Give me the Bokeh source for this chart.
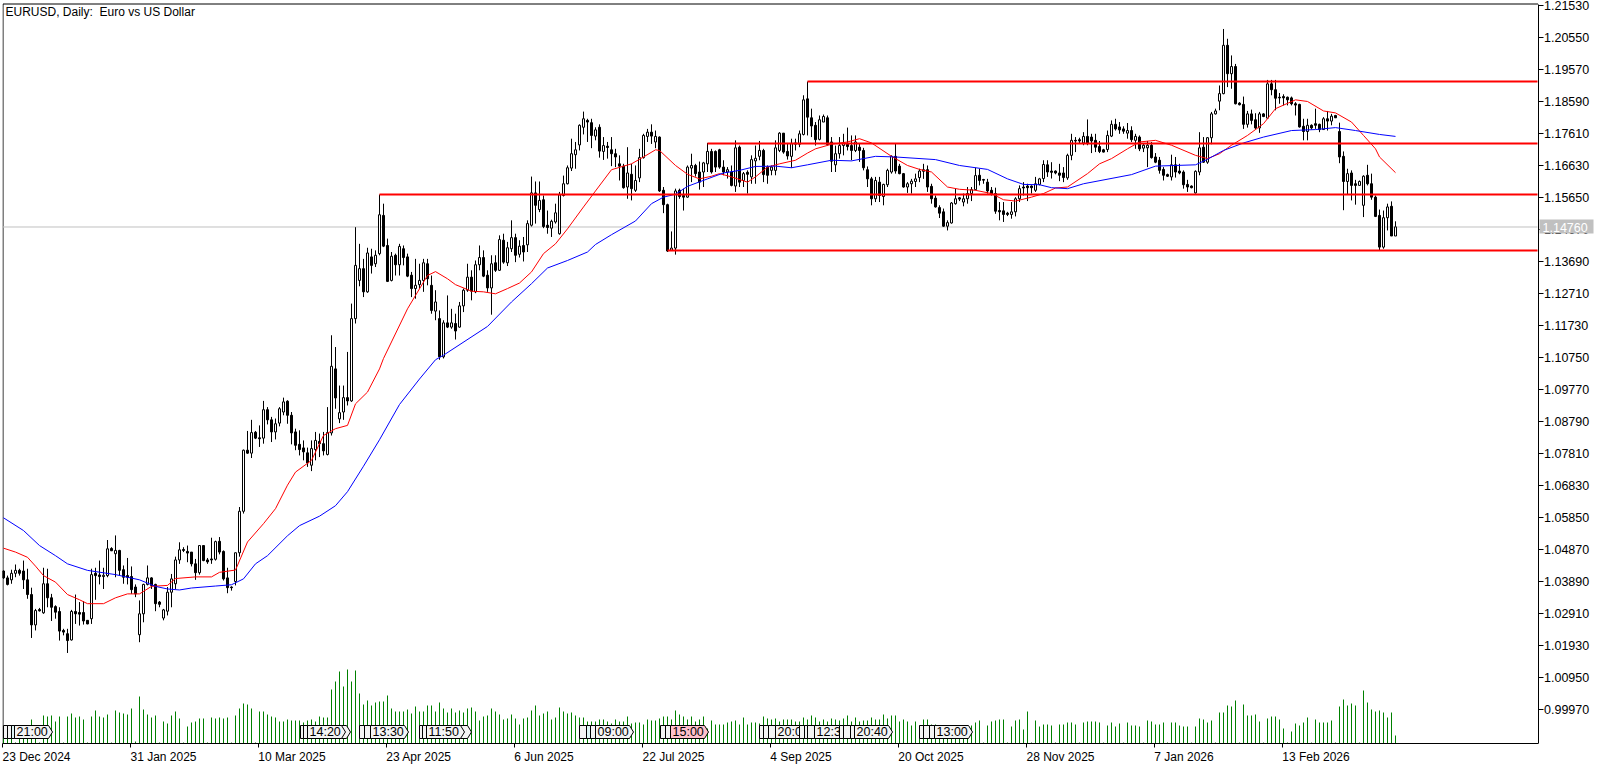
from bokeh.plotting import figure
from bokeh.embed import file_html
from bokeh.resources import INLINE
from bokeh.models import Range1d, FixedTicker, NumeralTickFormatter, LinearAxis
from bokeh.core.properties import value

# prices are in 1/10000 of a dollar
highs = [10424,10408,10426,10442,10429,10454,10429,10371,10306,10309,
10432,10429,10352,10317,10311,10245,10245,10303,10350,10327,
10330,10271,10429,10432,10454,10432,10517,10495,10531,10487,
10439,10462,10436,10381,10332,10383,10439,10403,10383,10330,
10306,10373,10413,10466,10510,10495,10500,10480,10459,10500,
10500,10462,10524,10515,10526,10485,10432,10375,10478,10618,
10794,10851,10885,10851,10868,10943,10924,10894,10889,10924,
10953,10945,10909,10858,10853,10822,10800,10822,10848,10843,
10848,10924,11144,11108,10990,10990,11093,11241,11475,11424,
11378,11412,11409,11404,11575,11547,11440,11399,11394,11424,
11419,11394,11338,11378,11363,11378,11378,11327,11282,11220,
11190,11266,11225,11210,11246,11287,11363,11343,11373,11419,
11404,11343,11389,11389,11450,11455,11430,11496,11455,11435,
11445,11496,11630,11615,11615,11572,11526,11498,11547,11583,
11633,11664,11746,11736,11790,11829,11807,11807,11781,11790,
11751,11736,11751,11715,11695,11669,11720,11669,11664,11715,
11761,11776,11790,11771,11753,11598,11547,11462,11593,11593,
11593,11664,11700,11669,11676,11675,11733,11715,11710,11715,
11680,11659,11664,11741,11725,11644,11649,11695,11725,11739,
11715,11664,11664,11741,11766,11763,11733,11746,11746,11771,
11879,11921,11838,11797,11817,11820,11817,11751,11725,11751,
11761,11780,11756,11756,11731,11718,11661,11629,11629,11629,
11608,11654,11695,11731,11669,11641,11613,11623,11639,11654,
11669,11664,11608,11572,11542,11532,11496,11552,11593,11567,
11578,11598,11598,11657,11654,11623,11623,11598,11596,11552,
11552,11522,11552,11567,11603,11613,11608,11603,11629,11626,
11680,11680,11674,11649,11669,11659,11700,11761,11751,11749,
11766,11805,11761,11761,11739,11715,11771,11802,11807,11797,
11784,11794,11784,11761,11756,11731,11739,11736,11702,11690,
11659,11639,11697,11690,11669,11649,11620,11603,11649,11766,
11751,11751,11828,11838,11909,12082,12052,12001,11975,11858,
11875,11831,11835,11824,11828,11824,11926,11926,11926,11886,
11882,11875,11875,11858,11853,11807,11807,11790,11838,11792,
11812,11831,11822,11819,11795,11707,11654,11649,11620,11618,
11634,11666,11639,11572,11529,11526,11547,11554,11493]

lows = [10398,10378,10383,10403,10408,10367,10337,10217,10240,10298,
10291,10311,10269,10276,10209,10225,10171,10209,10260,10255,
10258,10259,10260,10334,10381,10367,10403,10483,10403,10408,
10383,10381,10352,10342,10204,10265,10378,10367,10299,10311,
10271,10286,10311,10367,10444,10480,10449,10436,10395,10411,
10452,10444,10444,10454,10473,10393,10354,10362,10378,10466,
10598,10781,10768,10826,10802,10812,10871,10817,10825,10865,
10899,10873,10810,10792,10776,10761,10741,10728,10761,10771,
10776,10776,10837,10919,10875,10885,10929,10940,11180,11294,
11261,11274,11333,11353,11389,11414,11307,11309,11327,11327,
11358,11322,11261,11256,11287,11277,11297,11210,11190,11069,
11073,11166,11164,11131,11167,11215,11277,11251,11273,11343,
11322,11277,11207,11338,11341,11363,11356,11399,11368,11382,
11370,11399,11477,11486,11521,11472,11455,11445,11486,11452,
11569,11606,11647,11654,11710,11759,11736,11717,11741,11688,
11681,11685,11662,11659,11618,11593,11562,11557,11583,11613,
11685,11736,11730,11717,11583,11518,11399,11402,11391,11562,
11526,11565,11613,11630,11590,11598,11644,11639,11644,11654,
11634,11624,11600,11583,11598,11598,11578,11608,11608,11680,
11613,11608,11634,11634,11705,11700,11682,11657,11710,11720,
11756,11756,11751,11725,11741,11797,11725,11644,11644,11685,
11695,11710,11680,11705,11675,11649,11598,11542,11552,11552,
11542,11598,11639,11639,11637,11596,11580,11578,11598,11613,
11623,11583,11547,11535,11503,11476,11465,11486,11544,11555,
11539,11547,11555,11588,11603,11608,11578,11572,11516,11496,
11491,11509,11501,11508,11552,11572,11555,11578,11583,11603,
11613,11629,11624,11637,11616,11613,11620,11680,11705,11731,
11726,11726,11702,11705,11702,11704,11705,11751,11771,11761,
11761,11746,11736,11715,11708,11705,11659,11685,11671,11639,
11618,11629,11618,11627,11637,11593,11583,11594,11578,11634,
11672,11669,11729,11820,11833,11882,11904,11899,11851,11848,
11776,11780,11790,11776,11764,11812,11807,11879,11833,11853,
11848,11848,11848,11817,11780,11741,11741,11774,11776,11766,
11773,11771,11787,11810,11671,11527,11576,11557,11544,11603,
11506,11603,11559,11506,11404,11409,11465,11448,11448]

opens = [10422,10401,10395,10415,10424,10422,10395,10350,10257,10304,
10294,10383,10340,10313,10298,10240,10230,10211,10298,10295,
10295,10271,10276,10415,10410,10405,10408,10491,10475,10485,
10426,10408,10405,10373,10227,10291,10381,10401,10381,10327,
10278,10299,10357,10383,10456,10488,10482,10480,10444,10417,
10500,10456,10459,10458,10513,10482,10401,10373,10390,10478,
10605,10792,10783,10847,10830,10829,10916,10885,10848,10875,
10909,10942,10899,10848,10810,10799,10784,10746,10794,10819,
10812,10779,10845,11041,10888,10909,10953,10943,11195,11312,
11348,11277,11384,11363,11394,11511,11419,11312,11389,11360,
11409,11384,11328,11287,11299,11312,11363,11297,11218,11195,
11078,11182,11169,11180,11169,11234,11282,11322,11277,11360,
11382,11328,11289,11366,11343,11435,11366,11409,11443,11392,
11419,11421,11481,11580,11529,11559,11481,11472,11491,11455,
11572,11608,11656,11697,11727,11781,11802,11795,11754,11781,
11707,11723,11712,11700,11669,11662,11598,11637,11588,11626,
11688,11753,11766,11736,11751,11588,11544,11404,11411,11588,
11572,11567,11656,11664,11644,11644,11669,11707,11707,11712,
11659,11644,11644,11601,11720,11618,11643,11629,11678,11692,
11710,11659,11649,11649,11710,11763,11707,11692,11729,11729,
11759,11868,11810,11787,11744,11797,11810,11736,11666,11700,
11725,11729,11725,11710,11720,11710,11651,11623,11562,11613,
11569,11605,11644,11692,11662,11639,11598,11608,11615,11627,
11646,11651,11600,11564,11535,11522,11478,11488,11547,11565,
11552,11562,11578,11590,11634,11621,11613,11588,11578,11526,
11525,11518,11514,11522,11562,11598,11601,11601,11588,11606,
11624,11666,11647,11647,11641,11641,11626,11695,11741,11743,
11733,11753,11751,11741,11722,11712,11713,11754,11790,11782,
11776,11763,11771,11741,11751,11717,11718,11726,11690,11680,
11652,11636,11629,11666,11647,11644,11606,11601,11580,11644,
11720,11674,11749,11822,11861,11884,12032,11945,11967,11855,
11851,11790,11822,11804,11779,11822,11809,11914,11896,11873,
11875,11873,11871,11853,11851,11784,11768,11787,11792,11790,
11774,11807,11800,11817,11768,11692,11615,11641,11608,11603,
11542,11634,11608,11567,11511,11414,11504,11539,11448]

closes = [10401,10381,10415,10424,10415,10395,10350,10257,10301,10300,
10383,10340,10311,10296,10238,10235,10209,10298,10291,10290,
10269,10260,10411,10408,10405,10409,10490,10484,10485,10424,
10403,10403,10365,10352,10291,10381,10401,10378,10322,10320,
10303,10357,10398,10456,10487,10485,10477,10444,10417,10500,
10454,10450,10456,10512,10480,10398,10371,10371,10478,10605,
10792,10783,10846,10829,10827,10916,10885,10848,10873,10919,
10940,10899,10845,10807,10794,10787,10753,10797,10822,10812,
10790,10846,11049,10952,10907,10953,10943,11195,11358,11348,
11277,11396,11358,11389,11513,11417,11309,11386,11360,11416,
11382,11325,11287,11297,11312,11366,11317,11220,11246,11078,
11182,11169,11182,11157,11234,11282,11322,11279,11360,11382,
11325,11289,11363,11343,11437,11368,11412,11443,11389,11417,
11399,11486,11580,11542,11557,11477,11474,11493,11519,11574,
11608,11657,11700,11712,11787,11807,11797,11756,11773,11708,
11725,11719,11700,11690,11662,11596,11641,11593,11618,11688,
11756,11766,11754,11753,11586,11544,11402,11411,11586,11569,
11567,11659,11664,11639,11613,11672,11707,11644,11659,11659,
11644,11651,11603,11718,11613,11639,11637,11682,11686,11710,
11636,11634,11659,11718,11763,11705,11693,11731,11733,11761,
11865,11812,11785,11743,11804,11814,11728,11677,11700,11725,
11733,11722,11710,11736,11710,11657,11623,11562,11618,11572,
11606,11649,11692,11647,11639,11598,11608,11616,11623,11647,
11651,11598,11562,11537,11518,11478,11489,11549,11562,11561,
11562,11578,11590,11633,11618,11619,11586,11576,11524,11522,
11514,11514,11522,11562,11593,11595,11596,11596,11608,11623,
11667,11644,11643,11641,11634,11627,11695,11741,11739,11739,
11753,11731,11739,11720,11707,11705,11756,11790,11776,11773,
11769,11771,11743,11753,11715,11726,11726,11688,11674,11649,
11634,11631,11666,11644,11641,11605,11598,11596,11646,11718,
11674,11749,11822,11831,11884,12032,11945,11967,11853,11850,
11790,11822,11802,11779,11822,11814,11914,11896,11870,11871,
11871,11865,11853,11849,11782,11768,11787,11779,11787,11774,
11807,11800,11815,11810,11690,11615,11639,11603,11603,11615,
11631,11608,11567,11508,11414,11504,11537,11448,11476]

volumes = [15,15,15,1,15,15,15,24,16,1,
28,27,28,22,27,1,27,30,26,27,
24,1,27,33,27,26,29,1,33,31,
30,29,35,2,47,34,29,26,28,1,
22,20,28,32,25,1,17,21,22,25,
25,1,26,25,26,25,26,1,28,35,
40,39,35,1,32,32,29,27,26,22,
22,24,23,23,23,21,23,24,22,27,
26,26,54,62,72,57,74,62,73,50,
39,43,38,41,42,42,48,35,32,32,
32,34,30,37,32,32,38,38,32,41,
35,31,35,31,33,31,35,36,32,23,
27,28,35,32,29,24,25,29,25,19,
25,26,33,38,28,30,32,24,26,36,
32,30,31,28,26,26,22,22,22,24,
24,22,20,24,22,22,27,20,21,21,
19,24,23,23,25,27,27,24,33,29,
27,24,27,22,24,27,15,23,19,19,
19,21,22,23,19,26,19,21,21,20,
27,25,24,25,22,24,24,24,22,22,
26,24,28,26,22,24,22,25,24,23,
25,28,22,26,22,23,23,26,24,24,
29,25,28,28,22,24,22,18,22,18,
24,24,19,19,18,18,18,18,18,18,
18,18,18,21,23,1,18,22,23,24,
24,1,17,23,24,14,32,1,23,17,
19,19,18,1,19,19,21,21,19,1,
21,22,22,22,21,1,18,21,17,20,
1,21,18,18,17,1,23,22,19,19,
21,1,21,21,18,17,17,1,17,25,
24,21,23,1,31,31,38,37,43,1,
39,28,28,29,22,1,25,27,27,24,
15,1,12,20,18,21,26,1,24,21,
21,21,23,1,37,44,38,40,38,1,
53,41,34,32,33,31,26,31,8]

red_bars = [0,3,6,8,10,13,16,19,21,25,28,31,34,37,41,43,48,52,54,58,61,65,68,71,73,77,80,83,86,88,91,94,95,101,103,106,108,111,113,117,120,123,126,129,132,135,138,141,145,148,152,157,160,163,164,168,171,174,177,179,182,186,188,191,194,198,201,203,207,211,214,217,222,226,229,232,236,239,243,247,250,253,257,260,263,266,271,274,277,281,284,288,292,298,301,304,307,311,315,318,323,326,330,333,337,340,343,344,348]
red_ma = [10492,10480,10464,10437,10408,10388,10350,10334,10322,10322,10340,10352,10352,10375,10378,10399,10404,10404,10418,10425,10511,10567,10613,10685,10725,10761,10837,10858,10868,10934,10970,11041,11073,11225,11266,11327,11339,11317,11299,11279,11277,11271,11287,11304,11338,11394,11424,11470,11537,11586,11651,11669,11690,11712,11710,11664,11637,11623,11631,11639,11629,11613,11629,11659,11669,11680,11702,11715,11729,11736,11746,11733,11692,11664,11652,11644,11598,11591,11588,11578,11559,11555,11567,11578,11595,11598,11639,11669,11685,11715,11736,11741,11726,11695,11685,11700,11726,11756,11792,11838,11865,11860,11831,11825,11797,11756,11715,11690,11642]

blue_bars = [0,5,9,13,16,21,28,34,38,41,44,47,53,57,60,63,66,71,74,79,83,86,90,94,99,104,108,110,121,127,132,136,141,146,148,152,158,162,165,168,171,176,180,184,188,193,197,201,207,212,218,223,233,239,246,251,255,259,262,266,270,282,288,293,298,301,305,310,315,322,328,333,338,344,348]
blue_ma = [10585,10546,10500,10469,10444,10424,10411,10395,10375,10367,10364,10370,10376,10380,10398,10444,10469,10530,10561,10590,10622,10665,10743,10824,10932,11010,11069,11083,11171,11246,11302,11350,11373,11399,11422,11452,11494,11547,11567,11576,11600,11623,11641,11649,11661,11662,11657,11666,11680,11678,11692,11690,11682,11664,11652,11623,11606,11605,11596,11593,11608,11636,11662,11664,11666,11683,11710,11733,11751,11771,11774,11780,11771,11759,11753]

level_start_bars = [201,176,94,166]
level_prices = [1.19212,1.17313,1.15751,1.14036]
last_price = 1.14756
last_price_text = "1.14760"

price_ticks = [1.2153,1.2055,1.1957,1.1859,1.1761,1.1663,1.1565,1.1467,1.1369,1.1271,1.1173,1.1075,1.0977,1.0879,1.0781,1.0683,1.0585,1.0487,1.0389,1.0291,1.0193,1.0095,0.9997]
date_labels = ["23 Dec 2024","31 Jan 2025","10 Mar 2025","23 Apr 2025","6 Jun 2025","22 Jul 2025","4 Sep 2025","20 Oct 2025","28 Nov 2025","7 Jan 2026","13 Feb 2026"]
date_bars = [-0.25,31.75,63.75,95.75,127.75,159.75,191.75,223.75,255.75,287.75,319.75]
# estimated drawn width of each date text, used to left-align it at its tick
date_label_px = [68,66,67,65,59,62,61,65,68,59,67]

# tags along the time scale: (left edge on screen, text, fill)
TAGW = 38
tags = [(3,"","#f4f4f4"),(7,"","#f4f4f4"),(11,"","#dff5f5"),(14,"21:00","#f4f4f4"),
        (312,"","#f4f4f4"),(300,"","#f4f4f4"),(303,"","#f4f4f4"),(307,"14:20","#f4f4f4"),
        (359,"","#f4f4f4"),(364,"","#f4f4f4"),(370,"13:30","#f4f4f4"),
        (433,"","#f4f4f4"),(419,"","#f4f4f4"),(422,"","#f4f4f4"),(426,"11:50","#f4f4f4"),
        (579,"","#f4f4f4"),(586,"","#dff5f5"),(590,"","#f4f4f4"),(595,"09:00","#f4f4f4"),
        (660,"","#f4f4f4"),(665,"","#f4f4f4"),(670,"15:00","#ffc0cb"),
        (759,"","#f4f4f4"),(763,"","#f4f4f4"),(768,"","#f4f4f4"),(775,"20:00","#f4f4f4"),
        (799,"","#f4f4f4"),(804,"","#f4f4f4"),(807,"","#f4f4f4"),(814,"12:30","#f4f4f4"),
        (839,"","#f4f4f4"),(843,"","#f4f4f4"),(850,"","#f4f4f4"),(854,"20:40","#f4f4f4"),
        (919,"","#f4f4f4"),(923,"","#f4f4f4"),(929,"","#f4f4f4"),(934,"13:00","#f4f4f4")]

W, H = 1606, 767
FL, AXR, FB = 2, 1537, 743
TOP_EDGE = 3
PX_PER_BAR = 4.0
PRICE_PER_PX = 0.00030625
x0 = -0.25
y_top = 1.2153 + 5.3 * PRICE_PER_PX
y_bot = 1.2153 - (FB - 5.3) * PRICE_PER_PX

def bx(px):
    return x0 + (px - FL) / PX_PER_BAR
def py(px):
    return 1.2153 - (px - 5.3) * PRICE_PER_PX

# the frame runs to the page edges so the axis texts and last-price box are not clipped
p = figure(width=W, height=H, output_backend="svg", toolbar_location=None,
           x_range=Range1d(x0, bx(W)),
           y_range=Range1d(y_bot, y_top), y_axis_location="right",
           min_border_left=FL, min_border_top=0,
           min_border_right=0, min_border_bottom=H - FB)
p.margin = (0, 0, 0, 0)
p.background_fill_color = "white"
p.border_fill_color = "white"
p.grid.visible = False
p.outline_line_color = None

FONT = "Liberation Sans"
ax = p.yaxis[0]
ax.fixed_location = bx(AXR + 0.5)
ax.bounds = (y_bot, py(TOP_EDGE + 0.5))
ax.ticker = FixedTicker(ticks=price_ticks)
ax.formatter = NumeralTickFormatter(format="0.00000")
ax.major_tick_out = 5
ax.major_tick_in = 0
ax.minor_tick_line_color = None
ax.major_label_standoff = 1
ax.major_label_text_font = FONT
ax.major_label_text_font_size = "12.5px"
ax.major_label_text_color = "black"
ax.axis_line_color = "black"
ax.major_tick_line_color = "black"

# tick marks only, on the first axis
tick_ax = p.xaxis[0]
tick_ax.ticker = FixedTicker(ticks=date_bars)
tick_ax.bounds = (x0, bx(AXR + 0.5))
tick_ax.major_label_overrides = {float(k): "" for k in date_bars}
tick_ax.major_tick_out = 4
tick_ax.major_tick_in = 0
tick_ax.minor_tick_line_color = None
tick_ax.major_label_standoff = 0
tick_ax.axis_line_color = "black"
tick_ax.major_tick_line_color = "black"

# the date texts, on a second axis: Bokeh centres axis labels on their ticks
label_pos = [b + w / 2 / PX_PER_BAR for b, w in zip(date_bars, date_label_px)]
lab_ax = LinearAxis(ticker=FixedTicker(ticks=label_pos),
                    major_label_overrides={float(k): v for k, v in zip(label_pos, date_labels)},
                    major_tick_line_color=None, minor_tick_line_color=None, axis_line_color=None,
                    major_tick_out=0, major_tick_in=0, major_label_standoff=2,
                    major_label_text_font=FONT, major_label_text_font_size="12px",
                    major_label_text_color="black")
p.add_layout(lab_ax, "below")

# top and left edges of the chart window
p.line([bx(FL + 0.5), bx(FL + 0.5), bx(AXR + 0.5)], [y_bot, py(TOP_EDGE + 0.5), py(TOP_EDGE + 0.5)],
       line_color="black", line_width=1)

n = len(closes)
bars = list(range(n))
P = 1e-4
o = [v * P for v in opens]
c = [v * P for v in closes]
h = [v * P for v in highs]
l = [v * P for v in lows]
xend = bx(AXR)

# last price line
p.segment(x0=[x0], x1=[xend], y0=[last_price], y1=[last_price], line_color="#c0c0c0", line_width=1)

# volumes on their own scale
p.extra_y_ranges = {"vol": Range1d(0, FB)}
p.segment(x0=bars, x1=bars, y0=[0] * n, y1=volumes, y_range_name="vol",
          line_color="#008000", line_width=1)

# candles
p.segment(x0=bars, x1=bars, y0=l, y1=h, line_color="black", line_width=1)
p.vbar(x=bars, width=0.5, top=[max(a, b) for a, b in zip(o, c)],
       bottom=[min(a, b) for a, b in zip(o, c)],
       fill_color=["white" if b >= a else "black" for a, b in zip(o, c)],
       line_color="black", line_width=1)

# moving averages
p.line(red_bars, [v * P for v in red_ma], line_color="#ff0000", line_width=1)
p.line(blue_bars, [v * P for v in blue_ma], line_color="#0000ff", line_width=1)

# horizontal levels
p.segment(x0=level_start_bars, x1=[xend] * len(level_prices), y0=level_prices, y1=level_prices,
          line_color="#ff0000", line_width=2)

# title
p.text(x=[bx(5)], y=[py(11)], text=["EURUSD, Daily:\u00a0 Euro vs US Dollar"],
       text_font=value(FONT), text_font_size="12px", text_color="black",
       text_align="left", text_baseline="middle")

# time tags
for left, txt, fill in tags:
    R = left + TAGW
    xs = [bx(left), bx(R - 4), bx(R), bx(R - 4), bx(left)]
    ys = [py(725), py(725), py(731.5), py(738), py(738)]
    p.patch(xs, ys, fill_color=fill, line_color="black", line_width=1)
    if txt:
        p.text(x=[bx(left + 2)], y=[py(731.5)], text=[txt], text_font=value(FONT),
               text_font_size="12.5px", text_color="black", text_align="left", text_baseline="middle")

# last-price box, drawn over the price axis
p.quad(left=[bx(1539)], right=[bx(1593)], top=[py(219)], bottom=[py(233)],
       fill_color="#c0c0c0", line_color=None, level="annotation")
p.text(x=[bx(1542)], y=[py(226.5)], text=[last_price_text], text_font=value(FONT),
       text_font_size="12.5px", text_color="white", text_align="left", text_baseline="middle",
       level="annotation")

open("out.html", "w").write(file_html(p, INLINE))
